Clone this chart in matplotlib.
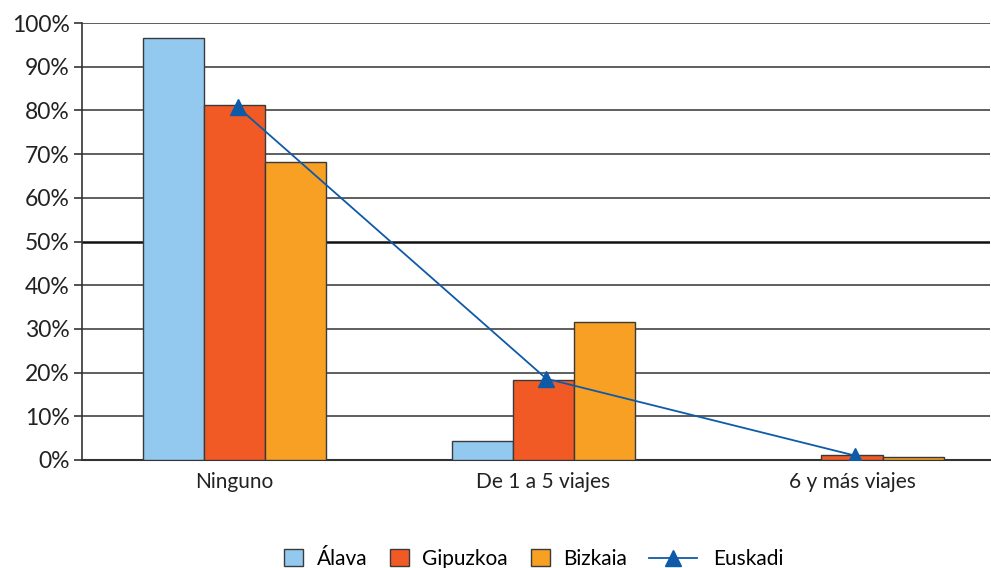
import numpy as np
import matplotlib.pyplot as plt

categorias = ['Ninguno', 'De 1 a 5 viajes', '6 y más viajes']
alava = [96.6, 4.3, 0.0]
gipuzkoa = [81.3, 18.4, 1.1]
bizkaia = [68.3, 31.5, 0.8]
euskadi = [80.8, 18.6, 1.0]
yticks = [0, 10, 20, 30, 40, 50, 60, 70, 80, 90, 100]

plt.rcParams['font.family'] = ['Lato', 'DejaVu Sans']

fig = plt.figure(figsize=(9.91, 5.68), dpi=100)
ax = fig.add_axes([82/991, 1 - 460/568, 908/991, 437/568])

x = np.arange(len(categorias))
w = 0.198
b1 = ax.bar(x - w, alava, w, color='#93C9EE', edgecolor='#3a3a3a', linewidth=1, label='Álava', zorder=3)
b2 = ax.bar(x, gipuzkoa, w, color='#F15A24', edgecolor='#3a3a3a', linewidth=1, label='Gipuzkoa', zorder=3)
b3 = ax.bar(x + w, bizkaia, w, color='#F7A023', edgecolor='#3a3a3a', linewidth=1, label='Bizkaia', zorder=3)
ln, = ax.plot(x + 0.01, euskadi, color='#0F5AA8', linewidth=1.3, marker='^', markersize=11,
              label='Euskadi', zorder=4)

for t in yticks:
    if t == 50:
        ax.axhline(t, color='#111111', linewidth=1.8, zorder=1)
    elif t > 0:
        ax.axhline(t, color='#333333', linewidth=1.1, zorder=1)

ax.set_xlim(-0.494, 2.447)
ax.set_ylim(0, 100)
ax.set_yticks(yticks)
ax.set_yticklabels([f'{t}%' for t in yticks], fontsize=16.5, color='#222222')
ax.set_xticks(x)
ax.set_xticklabels(categorias, fontsize=15, color='#222222')
ax.tick_params(axis='x', length=0, pad=9)
ax.tick_params(axis='y', length=6, width=1.2, color='#333333', pad=3)

for s in ['top', 'right']:
    ax.spines[s].set_visible(False)
ax.spines['left'].set_color('#333333')
ax.spines['left'].set_linewidth(1.2)
ax.spines['bottom'].set_color('#333333')
ax.spines['bottom'].set_linewidth(1.5)

leg1 = fig.legend(handles=[b1, b2, b3], loc='center left', bbox_to_anchor=(0.268, 0.016), ncol=3,
                  frameon=False, fontsize=15, handlelength=0.9, handleheight=0.85,
                  columnspacing=1.1, handletextpad=0.65)
leg2 = fig.legend(handles=[ln], loc='center left', bbox_to_anchor=(0.636, 0.016), frameon=False,
                  fontsize=15, handlelength=2.3, handletextpad=0.8)

fig.savefig('out.png', dpi=100)
